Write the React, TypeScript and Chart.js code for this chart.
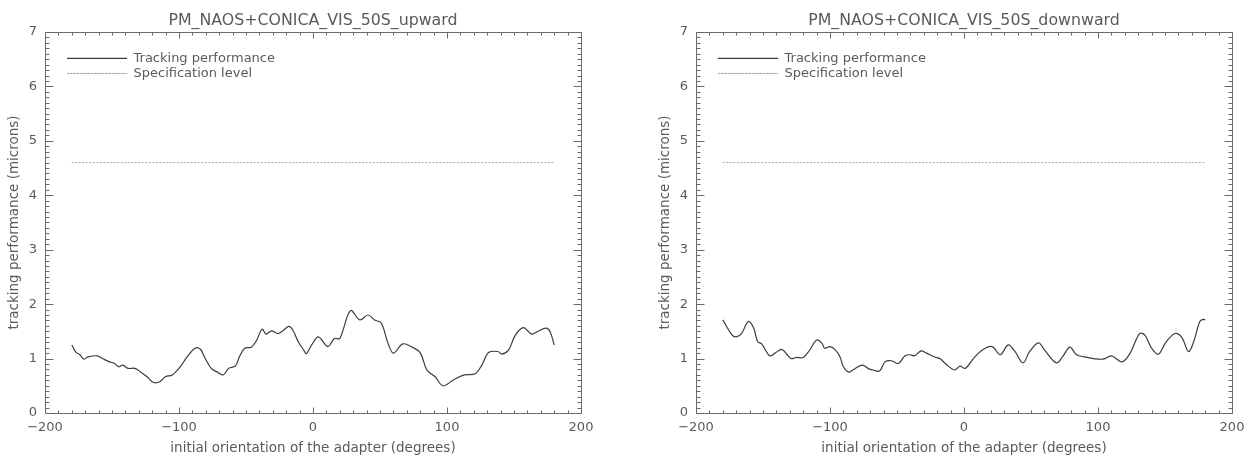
import React, { useEffect, useRef } from "react";
import { Chart, registerables } from "chart.js";

Chart.register(...registerables);

// ---------- data ----------
const X_TICK_STEP = 100;
const Y_TICK_STEP = 1;
const X_MINOR_STEP = 10;
const Y_MINOR_STEP = 0.1;
const X_MIN = -200;
const X_MAX = 200;
const Y_MIN = 0;
const Y_MAX = 7;

const SPEC_LEVEL = 4.6;
const SPEC_ANGLES = [-180, 180];

const UP_TITLE = "PM_NAOS+CONICA_VIS_50S_upward";
const UP_ANGLES = [
  -180, -177, -174, -171, -168, -161, -157, -152, -148, -145,
  -142, -138, -133, -129, -124, -119, -114, -110, -105, -99,
  -94, -88, -84, -81, -76, -72, -67, -63, -58, -55,
  -51, -46, -42, -38, -35, -31, -26, -22, -18, -15,
  -11, -7, -5, -1, 4, 11, 16, 20, 28, 35,
  41, 46, 51, 56, 60, 67, 74, 80, 85, 91,
  97, 105, 113, 121, 126, 131, 138, 141, 146, 151,
  157, 163, 167, 174, 177, 180,
];
const UP_VALUES = [
  1.25, 1.12, 1.07, 0.99, 1.03, 1.05, 1.0, 0.94, 0.91, 0.85,
  0.88, 0.82, 0.82, 0.76, 0.67, 0.56, 0.58, 0.67, 0.7, 0.85,
  1.03, 1.19, 1.17, 1.03, 0.82, 0.76, 0.7, 0.82, 0.86, 1.03,
  1.19, 1.21, 1.34, 1.54, 1.45, 1.51, 1.46, 1.52, 1.59, 1.52,
  1.31, 1.16, 1.09, 1.25, 1.4, 1.22, 1.37, 1.37, 1.88, 1.71,
  1.8, 1.71, 1.65, 1.28, 1.1, 1.27, 1.21, 1.11, 0.79, 0.67,
  0.5, 0.61, 0.7, 0.72, 0.88, 1.11, 1.13, 1.08, 1.16, 1.43,
  1.57, 1.45, 1.49, 1.56, 1.49, 1.25,
];

const DOWN_TITLE = "PM_NAOS+CONICA_VIS_50S_downward";
const DOWN_ANGLES = [
  -180, -173, -170, -166, -161, -157, -154, -151, -145, -141,
  -136, -132, -129, -125, -120, -115, -110, -106, -104, -100,
  -96, -92.5, -90, -86, -83, -76, -71, -68, -63, -59,
  -54, -49, -44, -40, -37, -32, -28, -22, -18, -14,
  -7, -3, 1, 7, 14, 21, 27, 33, 38, 44,
  49, 55.5, 60, 69, 74, 79, 84, 90, 96.5, 104,
  110, 118, 124, 131, 135, 140, 145, 151, 157.5, 162.5,
  167.5, 171, 176, 178.6, 180,
];
const DOWN_VALUES = [
  1.71, 1.43, 1.4, 1.46, 1.68, 1.56, 1.31, 1.27, 1.05, 1.1,
  1.17, 1.07, 1.0, 1.02, 1.02, 1.16, 1.34, 1.28, 1.19, 1.22,
  1.16, 1.03, 0.85, 0.75, 0.79, 0.88, 0.81, 0.79, 0.77, 0.94,
  0.96, 0.91, 1.05, 1.07, 1.05, 1.14, 1.1, 1.03, 1.0, 0.91,
  0.79, 0.86, 0.82, 1.0, 1.16, 1.22, 1.07, 1.25, 1.13, 0.92,
  1.13, 1.29, 1.16, 0.92, 1.05, 1.21, 1.07, 1.03, 1.0, 0.99,
  1.05, 0.94, 1.1, 1.46, 1.43, 1.19, 1.08, 1.31, 1.46, 1.39,
  1.13, 1.28, 1.68, 1.72, 1.71,
];

const LEGEND_TRACK = "Tracking performance";
const LEGEND_SPEC = "Specification level";
const X_TITLE = "initial orientation of the adapter (degrees)";
const Y_TITLE = "tracking performance (microns)";

// ---------- styling ----------
const FONT = "'DejaVu Sans', sans-serif";
const TEXT = "#5a5a5a";
const AXIS = "#6a6a6a";

const frameTicks = {
  id: "frameTicks",
  afterLayout(chart: any) {
    const a = chart.chartArea;
    const lg = chart.legend;
    if (lg) {
      const h = lg.height;
      const w = lg.width;
      lg.left = a.left + 20;
      lg.top = a.top + 18;
      lg.right = lg.left + w;
      lg.bottom = lg.top + h;
    }
    const tb = chart.titleBlock;
    if (tb) {
      tb.left = a.left;
      tb.right = a.right;
      tb.width = a.right - a.left;
    }
  },
  afterDraw(chart: any) {
    const { ctx, chartArea: a, scales } = chart;
    const xs = scales.x;
    const ys = scales.y;
    ctx.save();
    ctx.strokeStyle = AXIS;
    ctx.lineWidth = 1;
    ctx.beginPath();
    const L = Math.round(a.left) + 0.5;
    const R = Math.round(a.right) + 0.5;
    const T = Math.round(a.top) + 0.5;
    const B = Math.round(a.bottom) + 0.5;
    ctx.rect(L, T, R - L, B - T);
    const nx = Math.round((xs.max - xs.min) / X_MINOR_STEP);
    const perX = Math.round(X_TICK_STEP / X_MINOR_STEP);
    for (let i = 0; i <= nx; i++) {
      const v = xs.min + i * X_MINOR_STEP;
      const px = Math.round(xs.getPixelForValue(v)) + 0.5;
      const len = i % perX === 0 ? 6 : 3;
      ctx.moveTo(px, B);
      ctx.lineTo(px, B - len);
      ctx.moveTo(px, T);
      ctx.lineTo(px, T + len);
    }
    const ny = Math.round((ys.max - ys.min) / Y_MINOR_STEP);
    const perY = Math.round(Y_TICK_STEP / Y_MINOR_STEP);
    for (let i = 0; i <= ny; i++) {
      const v = ys.min + i * Y_MINOR_STEP;
      const py = Math.round(ys.getPixelForValue(v)) + 0.5;
      const len = i % perY === 0 ? 8 : 4;
      ctx.moveTo(L, py);
      ctx.lineTo(L + len, py);
      ctx.moveTo(R, py);
      ctx.lineTo(R - len, py);
    }
    ctx.stroke();
    ctx.restore();
  },
};

function toPoints(xs: number[], ys: number[]) {
  return xs.map((x, i) => ({ x, y: ys[i] }));
}

function Panel(props: { title: string; angles: number[]; values: number[]; left: number }) {
  const ref = useRef<HTMLCanvasElement | null>(null);
  useEffect(() => {
    if (!ref.current) return;
    const chart = new Chart(ref.current, {
      type: "line",
      data: {
        datasets: [
          {
            label: LEGEND_TRACK,
            data: toPoints(props.angles, props.values),
            borderColor: "#3c3c3c",
            backgroundColor: "transparent",
            borderWidth: 1.2,
            pointRadius: 0,
            tension: 0.35,
          },
          {
            label: LEGEND_SPEC,
            data: toPoints(SPEC_ANGLES, SPEC_ANGLES.map(() => SPEC_LEVEL)),
            borderColor: "#a8a8a8",
            backgroundColor: "transparent",
            borderWidth: 1,
            borderDash: [2, 1.5],
            pointRadius: 0,
          },
        ],
      },
      options: {
        responsive: false,
        animation: false,
        devicePixelRatio: 1,
        layout: { padding: { left: 0, right: 24, top: 0, bottom: 0 }, autoPadding: false },
        plugins: {
          title: {
            display: true,
            text: props.title,
            color: TEXT,
            font: { family: FONT, size: 15.8, weight: "normal", lineHeight: 1.2 },
            padding: { top: 11, bottom: 2 },
          },
          legend: {
            position: "chartArea",
            align: "start",
            labels: {
              color: TEXT,
              font: { family: FONT, size: 13 },
              boxWidth: 60,
              boxHeight: 0,
              padding: 2,
            },
          },
          tooltip: { enabled: false },
        },
        scales: {
          x: {
            type: "linear",
            min: X_MIN,
            max: X_MAX,
            afterFit: (s: any) => {
              s.height = 43;
            },
            grid: { display: false, drawTicks: false },
            border: { display: false },
            ticks: {
              stepSize: X_TICK_STEP,
              color: TEXT,
              padding: 7,
              font: { family: FONT, size: 13 },
              callback: (v: any) => String(v).replace("-", "\u2212"),
            },
            title: {
              display: true,
              text: X_TITLE,
              color: TEXT,
              font: { family: FONT, size: 13.5 },
              padding: { top: 0, bottom: -1 },
            },
          },
          y: {
            type: "linear",
            min: Y_MIN,
            max: Y_MAX,
            afterFit: (s: any) => {
              s.width = 45;
            },
            grid: { display: false, drawTicks: false },
            border: { display: false },
            ticks: {
              stepSize: Y_TICK_STEP,
              color: TEXT,
              padding: 8,
              font: { family: FONT, size: 13 },
            },
            title: {
              display: true,
              text: Y_TITLE,
              color: TEXT,
              font: { family: FONT, size: 13.5 },
              padding: { top: 6, bottom: 0 },
            },
          },
        },
      } as any,
      plugins: [frameTicks],
    });
    return () => chart.destroy();
  }, []);
  return (
    <div style={{ position: "absolute", left: props.left, top: 0, width: 605, height: 456 }}>
      <canvas ref={ref} width={605} height={456} style={{ width: 605, height: 456, display: "block" }} />
    </div>
  );
}

export default function App() {
  return (
    <div style={{ position: "absolute", left: 0, top: 0, width: 1256, height: 456, background: "#fff" }}>
      <Panel title={UP_TITLE} angles={UP_ANGLES} values={UP_VALUES} left={0} />
      <Panel title={DOWN_TITLE} angles={DOWN_ANGLES} values={DOWN_VALUES} left={651} />
    </div>
  );
}
